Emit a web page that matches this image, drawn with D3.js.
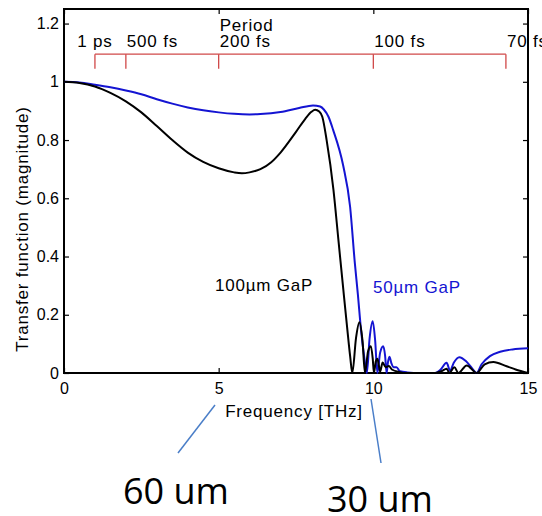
<!DOCTYPE html>
<html>
  <head>
    <meta charset="utf-8">
    <title>GaP transfer function</title>
    <style>
      body { margin: 0; background: #fff; }
      svg { display: block; }
      .tick text { font-family: "Liberation Sans", Arial, sans-serif; font-size: 16px; fill: #000; }
      .tick line { stroke: #000; stroke-width: 1.2px; }
      .lbl { font-family: "Liberation Sans", Arial, sans-serif; font-size: 17px; letter-spacing: 0.8px; }
      .big { font-family: "Open Sans", sans-serif; font-size: 36px; }
    </style>
    <script src="https://cdn.jsdelivr.net/npm/d3@7"></script>
  </head>
  <body>
  <script type="text/javascript">
    // 100 um GaP (black)
    var freq100 = [0, 0.5, 1.0, 1.5, 2.0, 2.5, 3.0, 3.5, 4.0, 4.5, 5.0, 5.5, 5.75, 6.0, 6.35, 6.7, 7.0, 7.5, 7.8, 8.0, 8.12, 8.25, 8.35, 8.49, 8.71, 8.87, 9.03, 9.16, 9.25, 9.32,
                   9.44, 9.55, 9.65, 9.73, 9.83, 9.92, 9.98, 10.02, 10.08, 10.13, 10.18, 10.22, 10.3, 10.4, 10.5, 10.6, 10.86, 11.0, 12.0,
                   12.2, 12.37, 12.46, 12.62, 12.75, 13.02, 13.34, 13.6, 13.88, 14.31, 14.6, 15];
    var mag100 = [1.0, 0.996, 0.984, 0.962, 0.933, 0.895, 0.848, 0.80, 0.757, 0.725, 0.703, 0.689, 0.686, 0.689, 0.70, 0.724, 0.757, 0.828, 0.873, 0.897, 0.904, 0.898, 0.88, 0.80, 0.63, 0.458, 0.286, 0.149, 0.058, 0.0,
                  0.12, 0.174, 0.11, 0.0, 0.075, 0.092, 0.05, 0.0, 0.04, 0.049, 0.025, 0.005, 0.036, 0.02, 0.024, 0.012, 0.003, 0.0, 0.0,
                  0.006, 0.015, 0.0, 0.02, 0.0, 0.026, 0.0, 0.03, 0.038, 0.023, 0.012, 0.0];

    // 50 um GaP (blue)
    var freq50 = [0, 0.5, 1.0, 1.5, 2.0, 2.5, 3.0, 3.5, 4.0, 4.5, 5.0, 5.5, 6.0, 6.35, 7.0, 7.6, 8.05, 8.28, 8.4, 8.55, 8.7, 9.02, 9.25, 9.4, 9.5, 9.6, 9.7, 9.79,
                  9.88, 9.98, 10.06, 10.13, 10.22, 10.32, 10.38, 10.43, 10.47, 10.52, 10.58, 10.65, 10.75, 10.86, 11.1, 11.5, 12.0,
                  12.16, 12.37, 12.48, 12.6, 12.78, 13.0, 13.2, 13.34, 13.5, 13.77, 14.1, 14.5, 15];
    var mag50 = [1.0, 0.998, 0.99, 0.981, 0.97, 0.957, 0.94, 0.925, 0.912, 0.902, 0.895, 0.89, 0.888, 0.889, 0.896, 0.91, 0.919, 0.915, 0.905, 0.88, 0.835, 0.715, 0.57, 0.38, 0.27, 0.15, 0.06, 0.0,
                 0.12, 0.178, 0.11, 0.0, 0.07, 0.092, 0.06, 0.0, 0.035, 0.056, 0.035, 0.02, 0.02, 0.006, 0.002, 0.0, 0.0,
                 0.01, 0.035, 0.008, 0.035, 0.054, 0.04, 0.015, 0.0, 0.03, 0.058, 0.073, 0.081, 0.085];

    var xTicks = [0, 5, 10, 15];
    var yTicks = [0, 0.2, 0.4, 0.6, 0.8, 1, 1.2];

    // period axis (THz positions and labels)
    var periodFreq = [1, 2, 5, 10, 1000 / 70];
    var periodLabels = ["1 ps", "500 fs", "200 fs", "100 fs", "70 fs"];
    var periodAnchor = ["middle", "start", "start", "start", "start"];
    var periodLineVal = 1.095, periodTickVal = 1.045, periodTextVal = 1.12, periodTitleVal = 1.175;

    var width = 542, height = 516;

    var svg = d3.select("body").append("svg")
        .attr("width", width)
        .attr("height", height);

    var x = d3.scaleLinear().domain([0, 15]).range([64, 528]);
    var y = d3.scaleLinear().domain([0, 1.25]).range([373, 9]);

    // axes
    svg.append("g")
        .attr("transform", "translate(0," + y(0) + ")")
        .call(d3.axisBottom(x).tickValues(xTicks).tickSize(-5).tickPadding(10).tickFormat(d3.format("d")))
        .call(function(g){ g.select(".domain").remove(); });
    svg.append("g")
        .attr("transform", "translate(0," + y(1.25) + ")")
        .call(d3.axisTop(x).tickValues(xTicks).tickSize(-5).tickFormat(""))
        .call(function(g){ g.select(".domain").remove(); });
    svg.append("g")
        .attr("transform", "translate(" + x(0) + ",0)")
        .call(d3.axisLeft(y).tickValues(yTicks).tickSize(-5).tickPadding(5).tickFormat(function(d){ return d3.format("~g")(d); }))
        .call(function(g){ g.select(".domain").remove(); });
    svg.append("g")
        .attr("transform", "translate(" + x(15) + ",0)")
        .call(d3.axisRight(y).tickValues(yTicks).tickSize(-5).tickFormat(""))
        .call(function(g){ g.select(".domain").remove(); });

    svg.append("rect")
        .attr("x", x(0)).attr("y", y(1.25))
        .attr("width", x(15) - x(0)).attr("height", y(0) - y(1.25))
        .attr("fill", "none").attr("stroke", "#000").attr("stroke-width", 2);

    // period scale
    var red = "#d04848";
    svg.append("line")
        .attr("x1", x(periodFreq[0])).attr("x2", x(periodFreq[periodFreq.length - 1]))
        .attr("y1", y(periodLineVal)).attr("y2", y(periodLineVal))
        .attr("stroke", red).attr("stroke-width", 1.3);
    svg.selectAll(".ptick").data(periodFreq).enter().append("line")
        .attr("class", "ptick")
        .attr("x1", function(d){ return x(d); }).attr("x2", function(d){ return x(d); })
        .attr("y1", y(periodLineVal)).attr("y2", y(periodTickVal))
        .attr("stroke", red).attr("stroke-width", 1.3);
    svg.selectAll(".plabel").data(periodFreq).enter().append("text")
        .attr("class", "lbl")
        .attr("x", function(d, i){ return x(d) + (periodAnchor[i] == "start" ? 1 : 0); })
        .attr("y", y(periodTextVal))
        .attr("text-anchor", function(d, i){ return periodAnchor[i]; })
        .text(function(d, i){ return periodLabels[i]; });
    svg.append("text")
        .attr("class", "lbl")
        .attr("x", x(5) + 1).attr("y", y(periodTitleVal))
        .text("Period");

    // curves
    var line = d3.line()
        .x(function(d){ return x(d[0]); })
        .y(function(d){ return y(d[1]); })
        .curve(d3.curveMonotoneX);

    svg.append("path")
        .datum(d3.zip(freq50, mag50))
        .attr("d", line)
        .attr("fill", "none").attr("stroke", "#1414d2").attr("stroke-width", 2);
    svg.append("path")
        .datum(d3.zip(freq100, mag100))
        .attr("d", line)
        .attr("fill", "none").attr("stroke", "#000").attr("stroke-width", 2);

    // labels
    svg.append("text").attr("class", "lbl")
        .attr("x", 215).attr("y", 291)
        .text("100\u00b5m GaP");
    svg.append("text").attr("class", "lbl")
        .attr("x", 373).attr("y", 293)
        .attr("fill", "#1414d2")
        .text("50\u00b5m GaP");

    svg.append("text").attr("class", "lbl")
        .attr("x", 294).attr("y", 417)
        .attr("text-anchor", "middle")
        .text("Frequency [THz]");

    svg.append("text").attr("class", "lbl")
        .attr("transform", "translate(28,229) rotate(-90)")
        .attr("text-anchor", "middle")
        .text("Transfer function (magnitude)");

    // slide annotations
    var annBlue = "#4a7ec8";
    svg.append("line")
        .attr("x1", 215).attr("y1", 405).attr("x2", 178).attr("y2", 453)
        .attr("stroke", annBlue).attr("stroke-width", 1.5);
    svg.append("line")
        .attr("x1", 371).attr("y1", 399).attr("x2", 381).attr("y2", 463)
        .attr("stroke", annBlue).attr("stroke-width", 1.5);
    svg.append("text").attr("class", "big")
        .attr("x", 123).attr("y", 504)
        .text("60 um");
    svg.append("text").attr("class", "big")
        .attr("x", 327).attr("y", 512)
        .text("30 um");
  </script>
  </body>
</html>
